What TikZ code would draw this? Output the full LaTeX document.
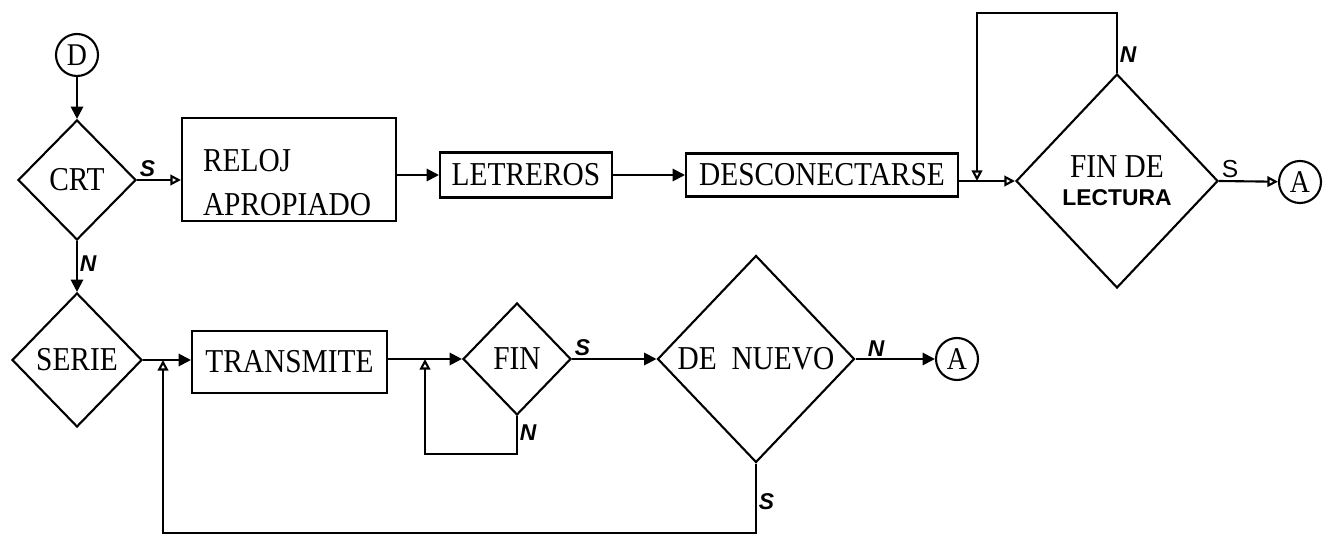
\documentclass[tikz,border=0pt]{standalone}
\usepackage{fontspec}
\setmainfont{Liberation Serif}
\setsansfont{Liberation Sans}
\newfontfamily\typefont[FakeStretch=0.88]{Liberation Serif}
\usetikzlibrary{arrows.meta,shapes.geometric}

\begin{document}
\begin{tikzpicture}[
  x=0.02cm, y=-0.02cm,
  line width=1.2pt,
  proc/.style={draw, inner sep=0pt, align=center, font=\typefont\fontsize{19}{22}\selectfont},
  decision/.style={draw, diamond, inner sep=0pt, align=center, font=\typefont\fontsize{19}{22}\selectfont},
  connector/.style={draw, circle, inner sep=0pt, minimum size=0.84cm, font=\typefont\fontsize{18}{20}\selectfont},
  flow/.style={-{Triangle[length=7pt,width=7pt]}},
  back/.style={-{Triangle[open,length=6pt,width=6pt]}},
  tag/.style={font=\sffamily\bfseries\itshape\fontsize{13}{13}\selectfont, inner sep=1pt},
  tagup/.style={font=\sffamily\fontsize{14}{14}\selectfont, inner sep=1pt}
]
\useasboundingbox (0,0) rectangle (1328,540);

% upper row
\node[connector] (startD) at (77,55) {D};
\node[decision, minimum width=2.36cm, minimum height=2.4cm] (crt) at (77,180) {CRT};
\node[proc, minimum width=4.28cm, minimum height=2.06cm, text width=3.44cm, align=left, text height=27pt] (reloj) at (289,169.5) {RELOJ\\[3pt]APROPIADO};
\node[proc, minimum width=3.44cm, minimum height=0.9cm] (letreros) at (526,175) {LETREROS};
\node[proc, minimum width=5.44cm, minimum height=0.86cm] (desc) at (822,175) {DESCONECTARSE};
\node[decision, minimum width=4.04cm, minimum height=4.28cm] (fdl) at (1117,181) {FIN DE\\[-6pt]{\sffamily\bfseries\fontsize{13}{15}\selectfont LECTURA}};
\node[connector] (endA1) at (1300,182) {A};

% lower row
\node[decision, minimum width=2.6cm, minimum height=2.68cm] (serie) at (77,360) {SERIE};
\node[proc, minimum width=3.9cm, minimum height=1.24cm] (transmite) at (289.5,362) {TRANSMITE};
\node[decision, minimum width=2.16cm, minimum height=2.24cm] (fin) at (517,359) {FIN};
\node[decision, minimum width=3.94cm, minimum height=4.14cm] (denuevo) at (756,359) {DE\ \ NUEVO};
\node[connector] (endA2) at (957,359) {A};

\coordinate (fdlloop) at (977,13);
\coordinate (finloop) at (425,454);
\coordinate (retorno) at (163,533);

\draw[flow] (startD) -- (crt);
\draw[back] (crt.east) -- node[tag, pos=0, above right] {S} (crt.east -| reloj.west);
\draw[flow] (reloj.east |- letreros) -- (letreros.west);
\draw[flow] (letreros.east) -- (desc.west);
\draw[back] (desc.east |- fdl.west) -- (fdl.west);
\draw[back] (fdl.north) -- node[tag, right, pos=0.3] {N} (fdl.north |- fdlloop) -- (fdlloop) -- (fdlloop |- fdl.west);
\draw[back] (fdl.east) -- node[tagup, pos=0, above right] {S} (endA1);

\draw[flow] (crt) -- node[tag, right, pos=0.45] {N} (serie);
\draw[flow] (serie.east) -- (serie.east -| transmite.west);
\draw[flow] (transmite.east |- fin) -- (fin.west);
\draw[back] (fin.south) -- node[tag, right, pos=0.45] {N} (fin.south |- finloop) -- (finloop) -- (finloop |- fin.west);
\draw[flow] (fin.east) -- node[tag, pos=0, above right] {S} (denuevo.west);
\draw[flow] (denuevo.east) -- node[tag, pos=0.12, above right] {N} (endA2);
\draw[back] (denuevo.south) -- node[tag, right, pos=0.55] {S} (denuevo.south |- retorno) -- (retorno) -- (retorno |- serie.east);
\end{tikzpicture}
\end{document}
